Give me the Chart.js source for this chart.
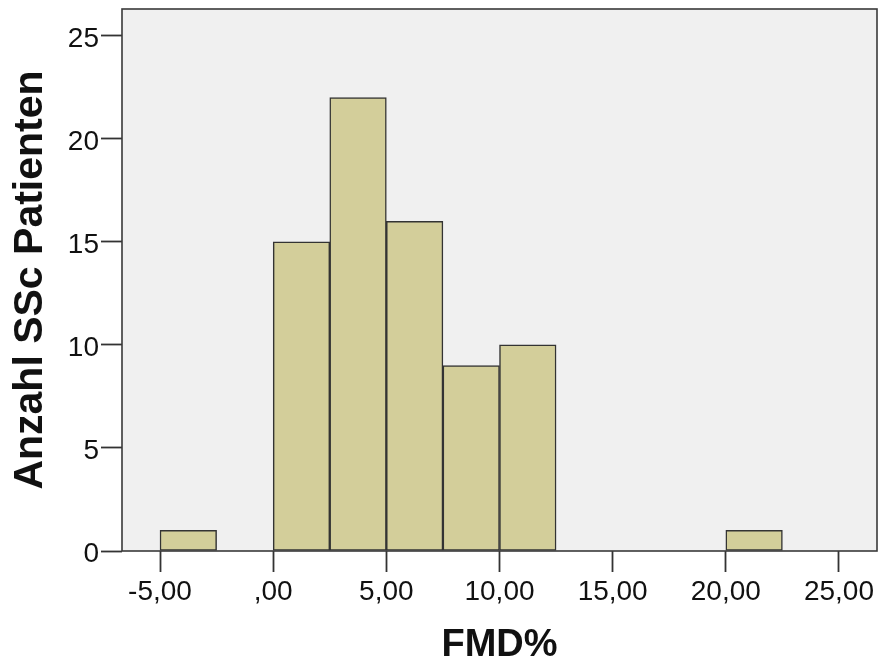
<!DOCTYPE html>
<html>
<head>
<meta charset="utf-8">
<script src="https://cdn.jsdelivr.net/npm/chart.js@4/dist/chart.umd.min.js"></script>
<style>
  html, body { margin: 0; padding: 0; background: #ffffff; }
  #wrap { width: 884px; height: 668px; }
</style>
</head>
<body>
<div id="wrap"><canvas id="hist" width="884" height="668"></canvas></div>
<script>
// Histogram of FMD% (bin width 2.5)
const binStarts = [-5, -2.5, 0, 2.5, 5, 7.5, 10, 12.5, 15, 17.5, 20];
const binCounts = [1, 0, 15, 22, 16, 9, 10, 0, 0, 0, 1];
const binWidth = 2.5;

const xTickValues = [-5, 0, 5, 10, 15, 20, 25];
const xTickLabels = ['-5,00', ',00', '5,00', '10,00', '15,00', '20,00', '25,00'];
const yTickValues = [0, 5, 10, 15, 20, 25];
const yTickLabels = ['0', '5', '10', '15', '20', '25'];

const xTitle = 'FMD%';
const yTitle = 'Anzahl SSc Patienten';

const points = binStarts.map((s, i) => ({ x: s + binWidth / 2, y: binCounts[i] }));

const FONT = '"Liberation Sans", Arial, sans-serif';

const plotFrame = {
  id: 'plotFrame',
  beforeDatasetsDraw(chart) {
    const { ctx, chartArea: a } = chart;
    ctx.save();
    ctx.fillStyle = '#f0f0f0';
    ctx.fillRect(a.left, a.top, a.right - a.left, a.bottom - a.top);
    ctx.restore();
  },
  afterDatasetsDraw(chart) {
    const { ctx, chartArea: a } = chart;
    ctx.save();
    ctx.strokeStyle = '#3a3a3a';
    ctx.lineWidth = 1.6;
    ctx.strokeRect(a.left, a.top, a.right - a.left, a.bottom - a.top);
    ctx.restore();
  }
};

new Chart(document.getElementById('hist'), {
  type: 'bar',
  data: {
    datasets: [{
      data: points,
      backgroundColor: '#d3ce9a',
      borderColor: '#333333',
      borderWidth: 1.5,
      borderSkipped: false,
      barPercentage: 1.0,
      categoryPercentage: 1.0
    }]
  },
  options: {
    responsive: false,
    animation: false,
    layout: { padding: { left: 0, right: 7, top: 9, bottom: 0 } },
    plugins: { legend: { display: false }, tooltip: { enabled: false } },
    scales: {
      x: {
        type: 'linear',
        min: -6.68,
        max: 26.68,
        offset: false,
        afterBuildTicks(scale) { scale.ticks = xTickValues.map(v => ({ value: v })); },
        afterFit(scale) {
          scale.height = 117;
          scale.paddingLeft = 0;
          scale.paddingRight = 0;
        },
        grid: {
          offset: false,
          drawOnChartArea: false,
          drawTicks: true,
          tickLength: 21,
          tickColor: '#333333',
          tickWidth: 1.8
        },
        border: { display: false },
        ticks: {
          autoSkip: false,
          maxRotation: 0,
          padding: 3,
          color: '#111111',
          font: { family: FONT, size: 28 },
          callback(value) {
            const i = xTickValues.indexOf(value);
            return i >= 0 ? xTickLabels[i] : '';
          }
        },
        title: {
          display: true,
          text: xTitle,
          color: '#111111',
          font: { family: FONT, size: 38, weight: 'bold', lineHeight: 1.2 },
          padding: { top: 0, bottom: 0 }
        }
      },
      y: {
        type: 'linear',
        min: 0,
        max: 26.3,
        afterBuildTicks(scale) { scale.ticks = yTickValues.map(v => ({ value: v })); },
        afterFit(scale) {
          scale.width = 122;
          scale.paddingTop = 0;
          scale.paddingBottom = 0;
        },
        grid: {
          drawOnChartArea: false,
          drawTicks: true,
          tickLength: 21,
          tickColor: '#333333',
          tickWidth: 1.8
        },
        border: { display: false },
        ticks: {
          autoSkip: false,
          padding: 2,
          labelOffset: 3,
          color: '#111111',
          font: { family: FONT, size: 28 },
          callback(value) {
            const i = yTickValues.indexOf(value);
            return i >= 0 ? yTickLabels[i] : '';
          }
        },
        title: {
          display: true,
          text: yTitle,
          color: '#111111',
          font: { family: FONT, size: 41, weight: 'bold', lineHeight: 1.2 },
          padding: { top: 6, bottom: 0 }
        }
      }
    }
  },
  plugins: [plotFrame]
});
</script>
</body>
</html>
